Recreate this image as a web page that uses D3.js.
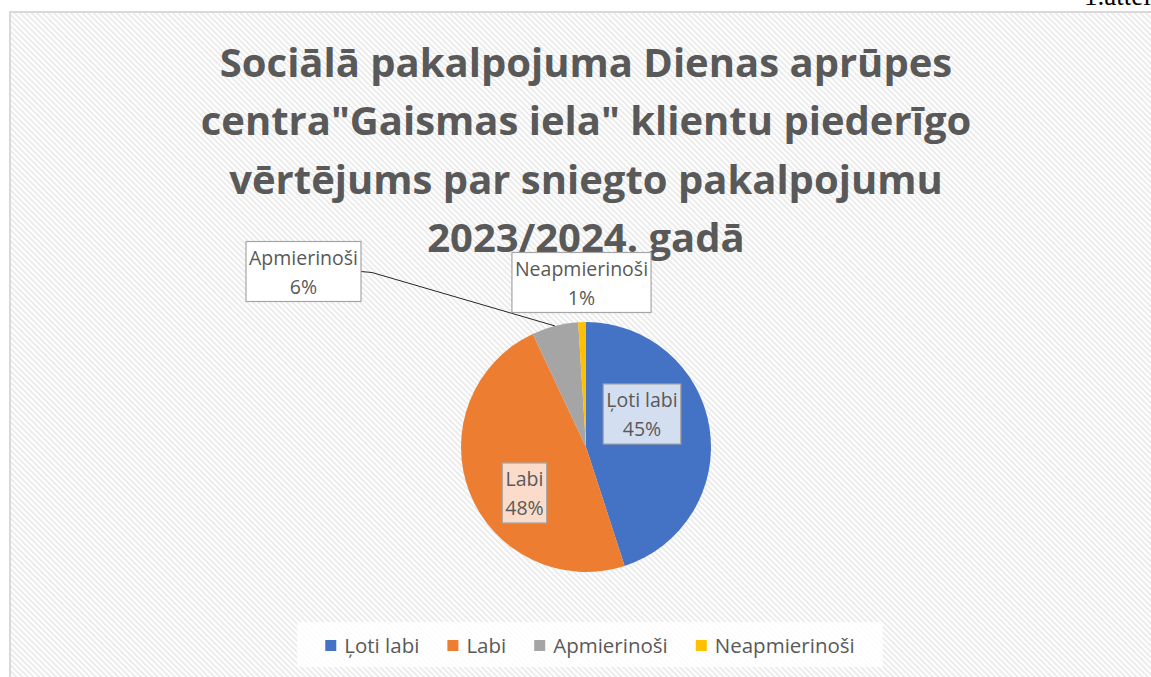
<!DOCTYPE html>
<html lang="lv">

<head>
    <meta charset="UTF-8">
    <script src="https://cdn.jsdelivr.net/npm/d3@7"></script>
    <title>Klientu piederīgo vērtējums</title>
    <style>
        body {
            margin: 0;
            background: white;
        }

        svg {
            display: block;
        }

        .title {
            font-family: "Open Sans", sans-serif;
            font-weight: bold;
            fill: #595959;
        }

        .lbl,
        .legend text {
            font-family: "Open Sans", sans-serif;
            fill: #595959;
        }
    </style>
</head>

<body>
    <div id="chart"></div>

    <script>
        const width = 1151;
        const height = 677;

        // chart data
        const categories = ["Ļoti labi", "Labi", "Apmierinoši", "Neapmierinoši"];
        const percents = [45, 48, 6, 1];
        const colors = ["#4472C4", "#ED7D31", "#A5A5A5", "#FFC000"];
        const labelFills = ["#d3dff1", "#fbdccb", "#ffffff", "#ffffff"];
        const titleLines = [
            "Sociālā pakalpojuma Dienas aprūpes",
            "centra\"Gaismas iela\" klientu piederīgo",
            "vērtējums par sniegto pakalpojumu",
            "2023/2024. gadā"
        ];

        // layout (label box centre relative to the pie centre)
        const labelOffsets = [
            { dx: 56, dy: -33 },
            { dx: -61.5, dy: 46 },
            { dx: -282.5, dy: -175.5 },
            { dx: -4.5, dy: -164.5 }
        ];
        const cx = 586, cy = 447, radius = 125;

        const svg = d3.select("#chart").append("svg")
            .attr("width", width)
            .attr("height", height);

        // striped chart background
        const defs = svg.append("defs");
        const pat = defs.append("pattern")
            .attr("id", "stripes")
            .attr("width", 4)
            .attr("height", 4)
            .attr("patternUnits", "userSpaceOnUse")
            .attr("patternTransform", "rotate(-45)");
        pat.append("rect").attr("width", 4).attr("height", 4).attr("fill", "white");
        pat.append("line")
            .attr("x1", 1).attr("x2", 1).attr("y1", 0).attr("y2", 4)
            .attr("stroke", "#ececec").attr("stroke-width", 2);

        svg.append("rect")
            .attr("x", 10).attr("y", 12)
            .attr("width", width + 20).attr("height", height + 20)
            .attr("fill", "url(#stripes)")
            .attr("stroke", "#d9d9d9")
            .attr("stroke-width", 2);

        // clipped page caption at the top right
        svg.append("text")
            .attr("x", 1084).attr("y", 5)
            .attr("font-family", "Liberation Serif, serif")
            .attr("font-size", 27)
            .attr("fill", "black")
            .text("1.attēls");

        // title
        svg.append("g").selectAll("text")
            .data(titleLines)
            .join("text")
            .attr("class", "title")
            .attr("x", cx)
            .attr("y", (d, i) => 77 + i * 58.3)
            .attr("text-anchor", "middle")
            .attr("font-size", 40)
            .text(d => d);

        // pie
        const pie = d3.pie().sort(null).value(d => d)(percents);
        const arc = d3.arc().innerRadius(0).outerRadius(radius);

        const g = svg.append("g").attr("transform", `translate(${cx},${cy})`);
        g.selectAll("path")
            .data(pie)
            .join("path")
            .attr("d", arc)
            .attr("fill", (d, i) => colors[i]);

        // data labels
        const fontSize = 19.5;
        const lineGap = 29;
        const boxH = 60;
        pie.forEach((d, i) => {
            const off = labelOffsets[i];
            const lg = g.append("g").attr("transform", `translate(${off.dx},${off.dy})`);
            const rect = lg.append("rect");
            const t1 = lg.append("text").attr("class", "lbl")
                .attr("text-anchor", "middle")
                .attr("font-size", fontSize)
                .attr("y", -boxH / 2 + 23)
                .text(categories[i]);
            const t2 = lg.append("text").attr("class", "lbl")
                .attr("text-anchor", "middle")
                .attr("font-size", fontSize)
                .attr("y", -boxH / 2 + 23 + lineGap)
                .text(percents[i] + "%");
            const w = Math.max(t1.node().getComputedTextLength(), t2.node().getComputedTextLength()) + 6;
            rect.attr("x", -w / 2).attr("y", -boxH / 2)
                .attr("width", w).attr("height", boxH)
                .attr("fill", labelFills[i])
                .attr("stroke", "#a6a6a6")
                .attr("stroke-width", 1.2);

            // leader line only for the label that sits far from its slice
            if (i === 2) {
                const mid = (d.startAngle + d.endAngle) / 2;
                const ex = radius * Math.sin(mid);
                const ey = -radius * Math.cos(mid);
                const sx = off.dx + w / 2;
                const sy = off.dy;
                g.insert("path", "g")
                    .attr("d", d3.line()([[sx, sy], [sx + 11, sy + 1], [ex, ey]]))
                    .attr("fill", "none")
                    .attr("stroke", "#262626")
                    .attr("stroke-width", 1);
            }
        });

        // legend
        const legend = svg.append("g").attr("class", "legend");
        const legendBg = legend.append("rect");
        const items = legend.selectAll("g")
            .data(categories)
            .join("g");
        items.append("rect")
            .attr("width", 11).attr("height", 11)
            .attr("y", -5.5)
            .attr("fill", (d, i) => colors[i]);
        items.append("text")
            .attr("x", 19)
            .attr("y", 7)
            .attr("font-size", 20.5)
            .text(d => d);

        let xpos = 0;
        const widths = [];
        items.each(function () {
            const tw = d3.select(this).select("text").node().getComputedTextLength();
            widths.push(19 + tw);
        });
        const totalW = d3.sum(widths) + 28 * (widths.length - 1);
        const legendY = 645.5;
        let startX = 590 - totalW / 2;
        items.attr("transform", (d, i) => {
            const x = startX + xpos;
            xpos += widths[i] + 28;
            return `translate(${x},${legendY})`;
        });
        legendBg
            .attr("x", startX - 28).attr("y", 622)
            .attr("width", totalW + 56).attr("height", 45)
            .attr("fill", "white")
            .attr("opacity", 0.85);
    </script>
</body>

</html>
